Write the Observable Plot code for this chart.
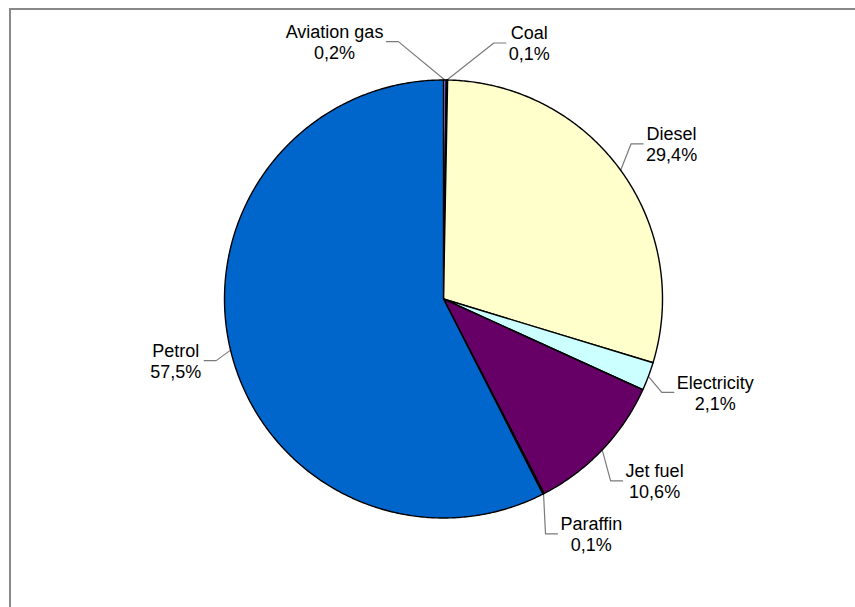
<!DOCTYPE html>
<html><head><meta charset="utf-8">
<script src="https://cdn.jsdelivr.net/npm/d3@7"></script>
<script src="https://cdn.jsdelivr.net/npm/@observablehq/plot@0.6"></script>
<style>
html,body{margin:0;padding:0;background:#fff;}
#wrap{position:relative;width:855px;height:607px;overflow:hidden;}
#chart{position:absolute;left:0;top:0;}
#frame{position:absolute;left:9px;top:8px;right:-10px;bottom:-10px;border-left:2px solid #898989;border-top:2px solid #898989;pointer-events:none;}
</style></head><body>
<div id="wrap"><div id="chart"></div><div id="frame"></div></div>
<script>
// ---- data ----
const fuels = ["Aviation gas","Coal","Diesel","Electricity","Jet fuel","Paraffin","Petrol"];
const shares = [0.2, 0.1, 29.4, 2.1, 10.6, 0.1, 57.5];
const colors = ["#9999FF","#993366","#FFFFCC","#CCFFFF","#660066","#FF8080","#0066CC"];

// ---- layout ----
const W = 855, H = 607;
const cx = 443, cy = 298.5, R = 219;
const FONT = "'Liberation Sans', Arial, sans-serif";
const FS = 18, LH = 21;

const fmt = v => d3.format(".1f")(v).replace(".", ",") + "%";
const total = d3.sum(shares);
let acc = 0;
const slices = fuels.map((name, i) => {
  const a0 = acc / total * 2 * Math.PI;
  acc += shares[i];
  const a1 = acc / total * 2 * Math.PI;
  return {name, i, a0, a1, mid: (a0 + a1) / 2, share: shares[i] / total * 100};
});

// wedge polygons on the unit circle (clockwise from 12 o'clock)
const wedgePts = [];
for (const s of slices) {
  const n = Math.max(2, Math.ceil((s.a1 - s.a0) / (Math.PI / 360)));
  wedgePts.push({name: s.name, x: 0, y: 0});
  for (let k = 0; k <= n; k++) {
    const a = s.a0 + (s.a1 - s.a0) * k / n;
    wedgePts.push({name: s.name, x: Math.sin(a), y: -Math.cos(a)});
  }
}

// label angles: fan out neighbouring tiny slices
const labelAngle = slices.map(s => s.mid);
const spread = 27 * Math.PI / 180;
for (let i = 0; i < slices.length;) {
  if (slices[i].share < 1) {
    let j = i;
    while (j + 1 < slices.length && slices[j + 1].share < 1) j++;
    const k = j - i + 1;
    if (k > 1) {
      const m = d3.mean(slices.slice(i, j + 1), s => s.mid);
      for (let q = 0; q < k; q++) labelAngle[i + q] = m + (q - (k - 1) / 2) * spread;
    }
    i = j + 1;
  } else i++;
}

const ctx = document.createElement("canvas").getContext("2d");
ctx.font = `${FS}px ${FONT}`;
const tw = t => ctx.measureText(t).width;

const labels = [], leaders = [];
slices.forEach((s, i) => {
  const th = labelAngle[i];
  const ux = Math.sin(th), uy = -Math.cos(th);
  const side = ux >= 0 ? 1 : -1;
  const d = R + 24;
  const px = cx + d * ux, py = cy + d * uy;
  const pct = fmt(shares[i]);
  const w = Math.max(tw(s.name), tw(pct));
  const h = 2 * LH;
  const fy = (1 - uy) / 2;
  const centerY = py - fy * h + h / 2;
  const nearX = px + side * 6;
  const centerX = nearX + side * w / 2;
  const toU = (X, Y) => ({x: (X - cx) / R, y: (Y - cy) / R});
  labels.push({...toU(centerX, centerY), text: s.name + "\n" + pct});
  const e = {x: Math.sin(s.mid), y: -Math.cos(s.mid)};
  leaders.push({name: s.name, ...e});
  leaders.push({name: s.name, ...toU(nearX - side * 15, centerY)});
  leaders.push({name: s.name, ...toU(nearX - side * 3, centerY)});
});

const chart = Plot.plot({
  width: W, height: H,
  margin: 0,
  x: {domain: [-cx / R, (W - cx) / R], range: [0, W], axis: null},
  y: {domain: [-cy / R, (H - cy) / R], range: [0, H], axis: null},
  color: {domain: fuels, range: colors},
  style: {fontFamily: FONT, background: "transparent", overflow: "visible"},
  marks: [
    Plot.line(leaders, {x: "x", y: "y", z: "name", stroke: "#7a7a7a", strokeWidth: 1.2}),
    Plot.line(wedgePts, {x: "x", y: "y", z: "name", fill: "name", stroke: "#000", strokeWidth: 1.4, strokeLinejoin: "round", curve: "linear-closed"}),
    Plot.text(labels, {x: "x", y: "y", text: "text", fontSize: FS, lineHeight: LH / FS, textAnchor: "middle", lineAnchor: "middle", fill: "#000"})
  ]
});
document.getElementById("chart").appendChild(chart);
</script>
</body></html>
